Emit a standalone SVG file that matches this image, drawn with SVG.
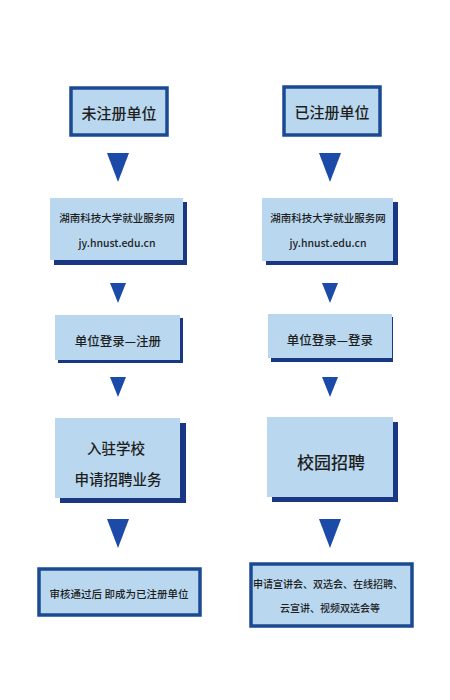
<svg xmlns="http://www.w3.org/2000/svg" width="450" height="700" viewBox="0 0 450 700">
<style>
.bg{fill:#ffffff}
.fill{fill:#b9d8f0}
.bord{fill:#b9d8f0;stroke:#1b4a93;stroke-width:3.5}
.shadow{fill:#1a3784}
.arrow{fill:#1c4aa8}
text{font-family:"Noto Sans CJK SC","Liberation Sans",sans-serif;fill:#1e1e1e;font-weight:500;text-anchor:middle;dominant-baseline:central}
.t15{font-size:15px}
.t10{font-size:10px}
.t11{font-size:10.5px}
.t12{font-size:12.5px}
.t14{font-size:14.5px}
.t17{font-size:17px}
</style>
<rect class="bg" x="0" y="0" width="450" height="700"/>
<g id="connectors">
<polygon class="arrow" points="107,153 129,153 118,182"/>
<polygon class="arrow" points="319,153 341,153 330,182"/>
<polygon class="arrow" points="110,283 126,283 118,303"/>
<polygon class="arrow" points="322,283 338,283 330,303"/>
<polygon class="arrow" points="110,377 126,377 118,397"/>
<polygon class="arrow" points="322,377 338,377 330,397"/>
<polygon class="arrow" points="107,519 129,519 118,548"/>
<polygon class="arrow" points="319,519 341,519 330,548"/>
</g>
<g id="n_unreg">
<rect class="bord" x="71" y="88" width="96" height="47"/>
<text class="t15" x="119" y="112">未注册单位</text>
</g>
<g id="n_reg">
<rect class="bord" x="284" y="87" width="96" height="48"/>
<text class="t15" x="332" y="111">已注册单位</text>
</g>
<g id="n_web_l">
<rect class="shadow" x="54" y="202" width="133" height="63"/>
<rect class="fill" x="50" y="198" width="133" height="62"/>
<text class="t11" x="117" y="217">湖南科技大学就业服务网</text>
<text class="t11" x="117" y="242">jy.hnust.edu.cn</text>
</g>
<g id="n_web_r">
<rect class="shadow" x="266" y="202" width="132" height="63"/>
<rect class="fill" x="262" y="198" width="131" height="63"/>
<text class="t11" x="328" y="217">湖南科技大学就业服务网</text>
<text class="t11" x="328" y="242">jy.hnust.edu.cn</text>
</g>
<g id="n_login_l">
<rect class="shadow" x="58" y="318" width="125" height="45"/>
<rect class="fill" x="55" y="315" width="125" height="45"/>
<text class="t12" x="118" y="340">单位登录—注册</text>
</g>
<g id="n_login_r">
<rect class="shadow" x="271" y="317" width="122" height="45"/>
<rect class="fill" x="268" y="314" width="124" height="44"/>
<text class="t12" x="330" y="339">单位登录—登录</text>
</g>
<g id="n_apply">
<rect class="shadow" x="60" y="423" width="126" height="80"/>
<rect class="fill" x="55" y="418" width="125" height="80"/>
<text class="t14" x="116" y="447">入驻学校</text>
<text class="t14" x="118" y="478">申请招聘业务</text>
</g>
<g id="n_campus">
<rect class="shadow" x="272" y="422" width="126" height="80"/>
<rect class="fill" x="267" y="417" width="126" height="80"/>
<text class="t17" x="331" y="461">校园招聘</text>
</g>
<g id="n_approved">
<rect class="bord" x="39" y="569" width="161" height="46"/>
<text class="t11" x="119" y="593">审核通过后 即成为已注册单位</text>
</g>
<g id="n_events">
<rect class="bord" x="251" y="564" width="161" height="62"/>
<text class="t10" x="328" y="583">申请宣讲会、双选会、在线招聘、</text>
<text class="t10" x="330" y="607">云宣讲、视频双选会等</text>
</g>
</svg>
